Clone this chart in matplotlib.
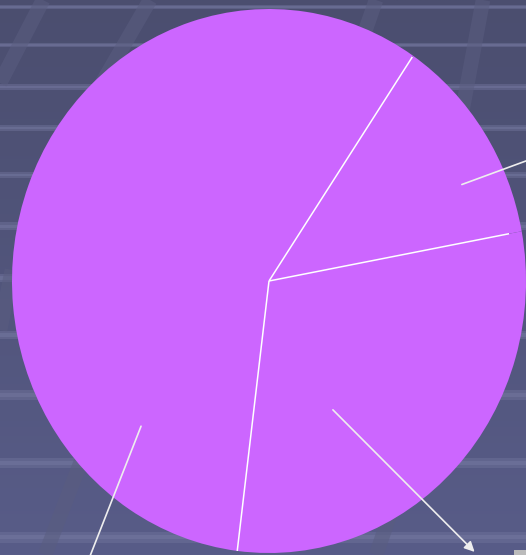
import numpy as np
import matplotlib

matplotlib.use("Agg")
import matplotlib.pyplot as plt

# slice shares, counterclockwise from the start angle
shares = [29.9, 12.6, 57.5]
start_angle = 262.9
pie_color = "#CC66FF"
# how far each white separator reaches (fraction of radius)
sep_reach = [1.0, 0.95, 0.995]

# leader lines: (angle deg, radius) of the inner end, and the outer end in data units
leader_inner = [(25.3, 0.83), (297.7, 0.535), (227.0, 0.73)]
leader_outer = [(1.14, 0.49), (0.80, -0.996), (-0.70, -1.02)]
leader_arrow = [False, True, False]

# background decoration (pixel rows from top, and slanted bands)
stripe_rows = [7, 45, 87, 128, 175, 226, 278, 335, 395, 463, 537]
bands = [((43, 0), (0, 83)), ((150, 0), (95, 95)), ((376, 0), (355, 60)),
         ((483, 0), (455, 150)), ((45, 555), (95, 425)), ((376, 555), (395, 500)),
         ((0, 330), (12, 270))]

W, H = 526, 555
fig = plt.figure(figsize=(W / 100, H / 100), dpi=100)

bg = fig.add_axes([0, 0, 1, 1])
bg.set_xlim(0, W)
bg.set_ylim(H, 0)
bg.axis("off")
top = np.array([75, 78, 111]) / 255
bot = np.array([88, 92, 136]) / 255
grad = np.linspace(0, 1, 256)[:, None, None]
img = top + (bot - top) * grad
bg.imshow(np.repeat(img, 2, axis=1), extent=(0, W, H, 0), aspect="auto")
for (x0, y0), (x1, y1) in bands:
    bg.plot([x0, x1], [y0, y1], color="#5A5D80", lw=10.5, alpha=0.55,
            solid_capstyle="butt")
for i, y in enumerate(stripe_rows):
    h = 2.0 + 3.5 * i / (len(stripe_rows) - 1)
    bg.axhspan(y - h, y + h, color="#6E7199", alpha=0.5, lw=0)
    bg.axhspan(y - h * 0.4, y + h * 0.4, color="#767AA2", alpha=0.45, lw=0)

ax = fig.add_axes([12 / W, 2 / H, 514 / W, 544 / H])
ax.patch.set_alpha(0)
ax.pie(shares, startangle=start_angle, colors=[pie_color] * len(shares),
       counterclock=True, wedgeprops=dict(linewidth=0))
ax.set_aspect("auto")
ax.set_xlim(-1, 1)
ax.set_ylim(-1, 1)
ax.axis("off")

# white radial separators at the slice boundaries
bounds = start_angle + 3.6 * np.concatenate([[0], np.cumsum(shares)[:-1]])
for a, reach in zip(np.radians(bounds), sep_reach):
    ax.plot([0, reach * np.cos(a)], [0, reach * np.sin(a)], color="white",
            lw=1.1, solid_capstyle="butt")

for (ang, r), (ox, oy), arrow in zip(leader_inner, leader_outer, leader_arrow):
    a = np.radians(ang)
    ax.annotate("", xy=(ox, oy), xytext=(r * np.cos(a), r * np.sin(a)),
                annotation_clip=False,
                arrowprops=dict(arrowstyle="-|>" if arrow else "-",
                                color="#EEEEEE", lw=1.2, mutation_scale=15,
                                shrinkA=0, shrinkB=0))

# corner of an off-canvas label box
ax.text(0.965, -1.0, "   ", fontsize=10, va="top", ha="left",
        bbox=dict(facecolor="#BBBBBB", edgecolor="none", pad=2), clip_on=False)

fig.savefig("out.png", dpi=100)
